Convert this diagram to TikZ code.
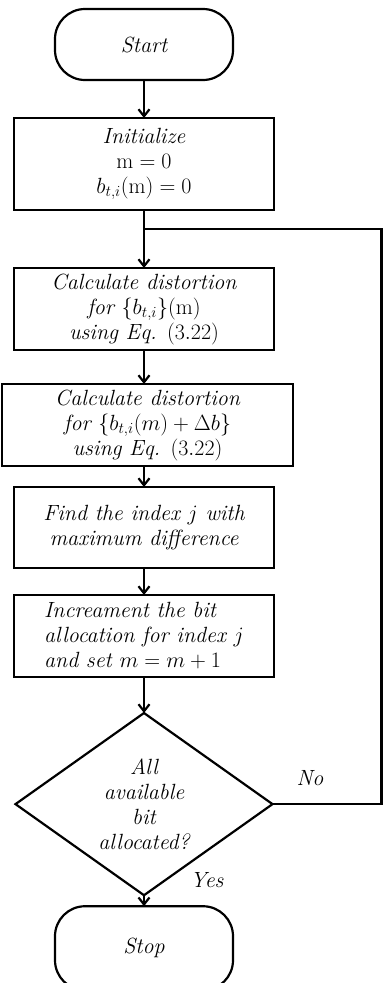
\RequirePackage{fix-cm}
\documentclass[tikz,border=0pt]{standalone}
\usepackage{amsmath,amssymb}
\usepackage{tikz}
\usetikzlibrary{arrows.meta,positioning,calc,shapes.geometric}
\newcommand{\fsz}{\fontsize{22}{25}\selectfont}
\tikzset{
  term/.style={rectangle,draw,line width=2.2pt,outer sep=0pt,rounded corners=30pt,minimum width=178pt,inner sep=0pt,font=\fsz\itshape},
  proc/.style={rectangle,draw,line width=2.2pt,outer sep=0pt,minimum width=260pt,inner sep=2pt,align=center,font=\fsz\itshape},
  dec/.style ={diamond,draw,line width=2.2pt,outer sep=0pt,minimum width=257pt,minimum height=174pt,inner sep=0pt,align=center,font=\fsz\itshape},
  lab/.style ={font=\fsz\itshape,inner sep=0pt},
  ln/.style  ={line width=2.2pt},
  ar/.style  ={-{Straight Barb[length=7pt,width=11pt]},line width=2.2pt},
}
\begin{document}
\begin{tikzpicture}[x=1pt,y=1pt,node distance=30pt]
  \useasboundingbox (0,0) rectangle (383,-983);
  \node[term,minimum height=71pt] (st) at (144,-44.5) {Start};
  \node[proc,minimum height=92pt,below=38pt of st] (ini) {Initialize\\ $\mathrm{m}=0$\\ $b_{t,i}(\mathrm{m})=0$};
  \node[proc,minimum height=82pt,below=58pt of ini] (dst) {Calculate distortion\\ for $\{b_{t,i}\}(\mathrm{m})$\\ using Eq. $(3.22)$};
  \node[proc,minimum width=291pt,minimum height=82pt,below=34pt of dst,xshift=3.5pt] (dstb) {Calculate distortion\\ for $\{b_{t,i}(m)+\Delta b\}$\\ using Eq. $(3.22)$};
  \node[proc,minimum height=81pt,below=21pt of dstb,xshift=-3.5pt] (fnd) {Find the index $j$ with\\ maximum difference};
  \node[proc,minimum height=82pt,below=27pt of fnd,align=left] (inc) {Increament the bit\\ allocation for index $j$\\ and set $m=m+1$};
  \node[dec,below=36pt of inc] (all) {All\\ available\\ bit\\ allocated?};
  \node[term,minimum height=84pt,below=11pt of all] (sp) {Stop};
  \node[lab] (no) at (310,-778) {No};
  \node[lab] (yes) at (207,-880) {Yes};
  % loop back
  \coordinate (jn) at ($(ini.south)!0.33!(dst.north)$);
  \coordinate (rgt) at (381.5,0);
  \draw[ar] (st) -- (ini);
  \draw[ar] (ini) -- (dst);
  \draw[ar] (dst.south) -- (dst.south |- dstb.north);
  \draw[ar] (fnd.north |- dstb.south) -- (fnd.north);
  \draw[ar] (fnd) -- (inc);
  \draw[ar] (inc) -- (all);
  \draw[ar] (all) -- (sp);
  \draw[ln] (all.east) -- (all.east -| rgt) -- (jn -| rgt) -- (jn);
\end{tikzpicture}
\end{document}
